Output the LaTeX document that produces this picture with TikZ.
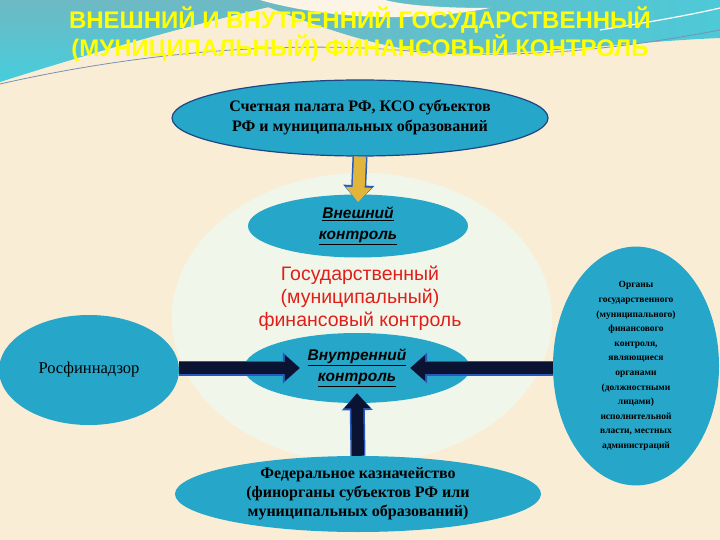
\documentclass[tikz,border=0pt]{standalone}
\usepackage{fontspec}
\setmainfont{Liberation Serif}
\setsansfont{Liberation Sans}
\usetikzlibrary{shapes.geometric, positioning, arrows.meta}

\definecolor{cream}{RGB}{250,237,214}
\definecolor{glow}{RGB}{240,247,234}
\definecolor{topteal}{RGB}{110,185,195}
\definecolor{lowteal}{RGB}{70,205,220}
\definecolor{blobfill}{RGB}{38,166,200}
\definecolor{blobline}{RGB}{30,70,130}
\definecolor{arrowbody}{RGB}{10,20,50}
\definecolor{arrowedge}{RGB}{40,90,190}
\definecolor{goldbody}{RGB}{225,180,60}
\definecolor{titleyellow}{RGB}{255,255,0}
\definecolor{redtext}{RGB}{225,30,25}

\pgfdeclareradialshading{glowshade}{\pgfpoint{0bp}{0bp}}{color(0bp)=(glow); color(32bp)=(glow); color(50bp)=(cream); color(100bp)=(cream)}

\begin{document}
\begin{tikzpicture}[
    x=1pt, y=-1pt,
    blob/.style={ellipse, fill=blobfill, inner sep=0pt, align=center, text=black},
    bigarrow/.style={line width=12pt, draw=arrowbody, -{Triangle[length=15pt,width=25pt]},
        preaction={draw=arrowedge, line width=15pt, -{Triangle[length=17pt,width=30pt]}}},
    goldarrow/.style={bigarrow, draw=goldbody}
]

   % Background
   \useasboundingbox (0,0) rectangle (720,540);
   \fill[cream] (0,0) rectangle (720,540);
   \shade[top color=topteal, bottom color=lowteal] (0,0) -- (300,0)
      .. controls (200,22) and (100,50) .. (0,82) -- cycle;
   \shade[left color=topteal, right color=lowteal!80!topteal] (250,0) -- (720,0) -- (720,38)
      .. controls (620,42) and (520,58) .. (430,52) .. controls (380,48) and (320,28) .. (250,0) -- cycle;
   \fill[cream!60!white] (260,0) .. controls (330,20) and (420,22) .. (490,8)
      .. controls (430,8) and (400,4) .. (385,0) -- cycle;
   \draw[blobline!60, line width=0.8pt] (0,84) .. controls (150,50) and (300,40) .. (420,52)
      .. controls (540,60) and (640,45) .. (720,30);
   \draw[white, line width=1.2pt] (600,30) .. controls (650,22) and (690,15) .. (720,8);
   \shade[shading=glowshade] (362,318) ellipse [x radius=190, y radius=145];

   % Title
   \node[font=\sffamily\bfseries\fontsize{24}{28}\selectfont, text=titleyellow, align=center] (title) at (360,34)
      {ВНЕШНИЙ И ВНУТРЕННИЙ ГОСУДАРСТВЕННЫЙ\\(МУНИЦИПАЛЬНЫЙ) ФИНАНСОВЫЙ КОНТРОЛЬ};

   % Ellipses
   \node[blob, draw=blobline, line width=1.2pt, minimum width=376, minimum height=76,
      font=\bfseries\fontsize{16}{20}\selectfont] (chamber) at (360,118)
      {Счетная палата РФ, КСО субъектов\\РФ и муниципальных образований};
   \node[blob, minimum width=220, minimum height=63,
      font=\sffamily\bfseries\itshape\fontsize{15.5}{21}\selectfont] (external) at (358,226)
      {\underline{Внешний}\\\underline{контроль}};
   \node[font=\sffamily\fontsize{19.5}{23}\selectfont, text=redtext, align=center] (state) at (360,298)
      {Государственный\\(муниципальный)\\финансовый контроль};
   \node[blob, minimum width=226, minimum height=70,
      font=\sffamily\bfseries\itshape\fontsize{15.5}{21}\selectfont] (internal) at (357,368)
      {\underline{Внутренний}\\\underline{контроль}};
   \node[blob, minimum width=180, minimum height=110,
      font=\fontsize{16.5}{20}\selectfont] (rosfin) at (89,370) {Росфиннадзор};
   \node[blob, minimum width=166, minimum height=204,
      font=\bfseries\fontsize{9.5}{14.6}\selectfont] (organs) at (636,366)
      {Органы\\государственного\\(муниципального)\\финансового\\контроля,\\являющиеся\\органами\\(должностными\\лицами)\\исполнительной\\власти, местных\\администраций};
   \node[blob, minimum width=366, minimum height=76,
      font=\bfseries\fontsize{16}{19}\selectfont] (treasury) at (358,494)
      {Федеральное казначейство\\(финорганы субъектов РФ или\\муниципальных образований)};

   % Arrows
   \draw[goldarrow] (chamber.south) -- ([yshift=-8]external.north);
   \draw[bigarrow] (rosfin.east |- internal) -- ([xshift=56]internal.west);
   \draw[bigarrow] (organs.west |- internal) -- ([xshift=-60]internal.east);
   \draw[bigarrow] (treasury.north) -- ([yshift=10]internal.south);

\end{tikzpicture}
\end{document}
